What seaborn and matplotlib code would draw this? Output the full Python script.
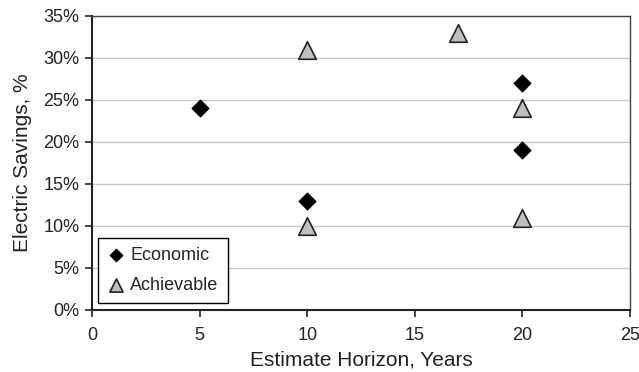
import matplotlib
matplotlib.use("Agg")
import matplotlib.pyplot as plt
import numpy as np
import pandas as pd
import seaborn as sns
from matplotlib.ticker import PercentFormatter

sns.set_theme(style="white")
plt.rcParams["font.family"] = ["Liberation Sans", "DejaVu Sans"]

econ_years = [5, 10, 20, 20]
econ_savings = [24, 13, 27, 19]
achv_years = [10, 10, 17, 20, 20]
achv_savings = [31, 10, 33, 24, 11]

econ = pd.DataFrame({"years": econ_years, "savings": econ_savings})
achv = pd.DataFrame({"years": achv_years, "savings": achv_savings})

fig, ax = plt.subplots(figsize=(6.39, 3.72), dpi=100)
fig.subplots_adjust(left=0.144, right=0.986, top=0.957, bottom=0.167)

sns.scatterplot(data=econ, x="years", y="savings", marker="D", s=74,
                color="black", edgecolor="black", linewidth=0.8,
                label="Economic", ax=ax, zorder=3)
sns.scatterplot(data=achv, x="years", y="savings", marker="^", s=160,
                color="#BFBFBF", edgecolor="#222222", linewidth=1.2,
                label="Achievable", ax=ax, zorder=3)

ax.set_xlim(0, 25)
ax.set_ylim(0, 35)
ax.set_xticks(np.arange(0, 26, 5))
ax.set_yticks(np.arange(0, 36, 5))
ax.yaxis.set_major_formatter(PercentFormatter(decimals=0))
ax.grid(axis="y", color="#C8C8C8", linewidth=1)
ax.grid(axis="x", visible=False)
ax.set_axisbelow(True)

for side in ["left", "bottom"]:
    ax.spines[side].set_color("#222222")
    ax.spines[side].set_linewidth(1.5)
for side in ["top", "right"]:
    ax.spines[side].set_color("#444444")
    ax.spines[side].set_linewidth(1.0)

ax.tick_params(axis="both", direction="out", length=5, width=1.2,
               color="#222222", labelsize=13, labelcolor="#222222", pad=4)
ax.tick_params(axis="x", pad=7)
ax.tick_params(left=True, bottom=True)

ax.set_xlabel("Estimate Horizon, Years", fontsize=15, color="#222222", labelpad=5)
ax.set_ylabel("Electric Savings, %", fontsize=15, color="#222222", labelpad=8)

leg = ax.legend(loc="lower left", bbox_to_anchor=(0.011, 0.024), borderaxespad=0,
                fontsize=13, frameon=True, fancybox=False, framealpha=1,
                edgecolor="black", handletextpad=0.3, labelspacing=0.7,
                borderpad=0.5, handlelength=1.0, markerscale=0.75)
leg.get_frame().set_linewidth(1.0)

fig.savefig("out.png", dpi=100)
